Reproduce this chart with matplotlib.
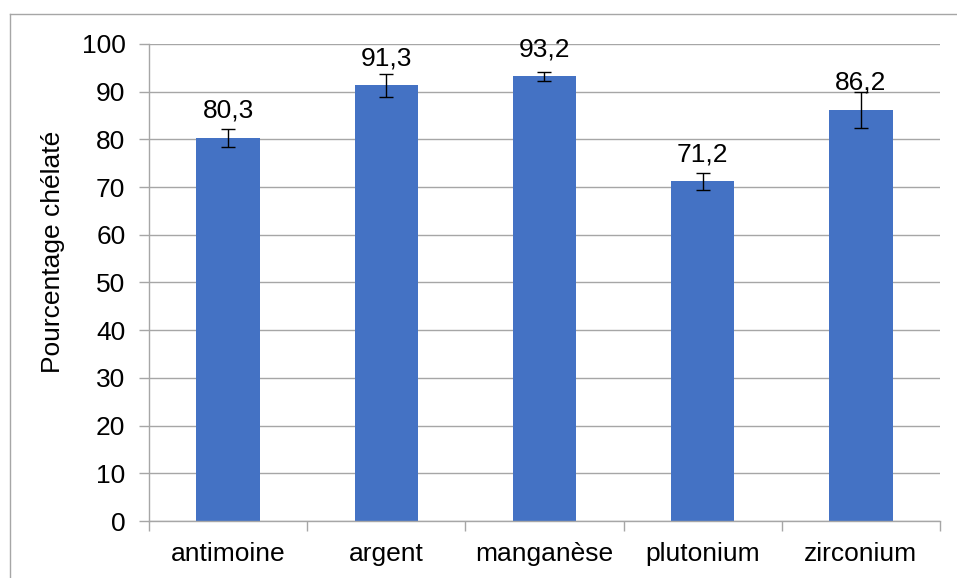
import matplotlib.pyplot as plt
import numpy as np
from matplotlib.lines import Line2D

plt.rcParams['font.family'] = ['Liberation Sans', 'DejaVu Sans']

elements = ['antimoine', 'argent', 'manganèse', 'plutonium', 'zirconium']
pourcentage = [80.3, 91.3, 93.2, 71.2, 86.2]
erreur = [1.9, 2.5, 1.0, 1.8, 3.8]
etiquettes = ['80,3', '91,3', '93,2', '71,2', '86,2']

fig = plt.figure(figsize=(9.57, 5.78), dpi=100)
ax = fig.add_axes([0.1557, 0.0986, 0.9822 - 0.1557, 0.9239 - 0.0986])

x = np.arange(len(elements))
ax.set_axisbelow(True)
ax.yaxis.grid(True, color='#a6a6a6', linewidth=1)
ax.bar(x, pourcentage, width=0.4, color='#4472C4', zorder=2)
ax.errorbar(x, pourcentage, yerr=erreur, fmt='none', ecolor='black',
            elinewidth=1, capsize=5, capthick=1, zorder=3)

for xi, v, lab in zip(x, pourcentage, etiquettes):
    ax.text(xi, v + 4.2, lab, ha='center', va='baseline', fontsize=19, zorder=4)

ax.set_xlim(-0.5, len(elements) - 0.5)
ax.set_ylim(0, 100)
ax.set_yticks(range(0, 101, 10))
ax.set_xticks(x)
ax.set_xticklabels(elements)
ax.set_xticks(np.arange(-0.5, len(elements)), minor=True)
ax.tick_params(axis='x', which='major', length=0, labelsize=19, pad=15)
ax.tick_params(axis='x', which='minor', length=7, color='#a6a6a6', width=1)
ax.tick_params(axis='y', length=7, color='#a6a6a6', width=1, labelsize=19, pad=10)

for s in ['top', 'right']:
    ax.spines[s].set_visible(False)
for s in ['left', 'bottom']:
    ax.spines[s].set_color('#a6a6a6')
    ax.spines[s].set_linewidth(1)

ax.set_ylabel('Pourcentage chélaté', fontsize=19)
ax.yaxis.set_label_coords(-0.106, 0.565)

# cadre du graphique (coin haut gauche)
fig.add_artist(Line2D([9.5 / 957, 9.5 / 957], [0, 1 - 14 / 578], color='#a6a6a6', lw=1))
fig.add_artist(Line2D([9.5 / 957, 1], [1 - 14 / 578, 1 - 14 / 578], color='#a6a6a6', lw=1))

fig.savefig('out.png', dpi=100)
